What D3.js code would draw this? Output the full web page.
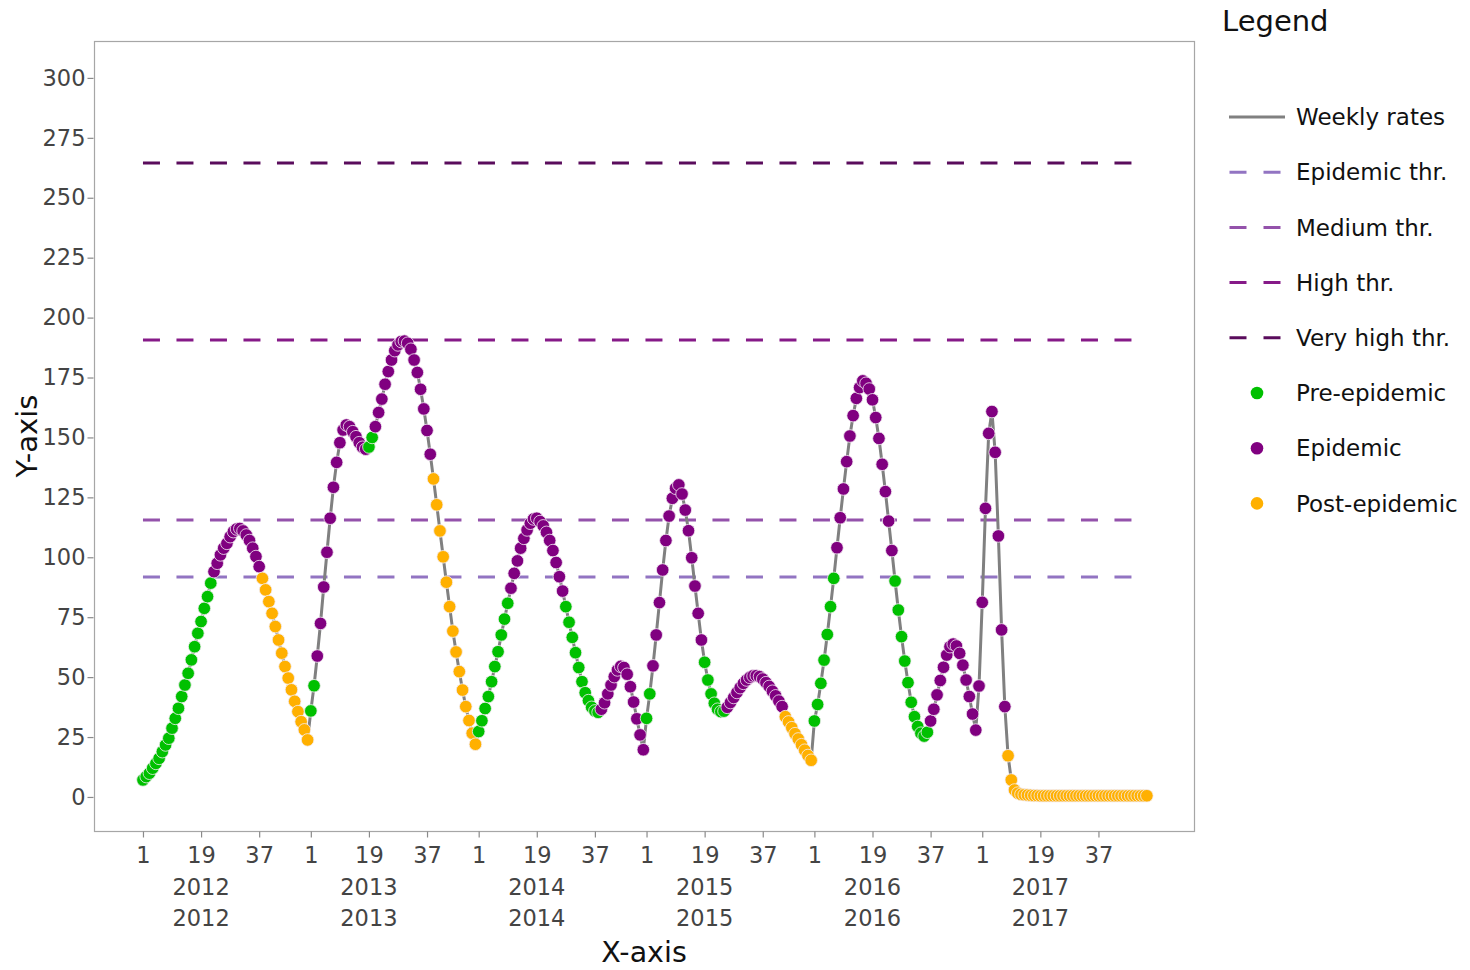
<!DOCTYPE html>
<html>
<head>
<meta charset="utf-8">
<script src="https://cdn.jsdelivr.net/npm/d3@7"></script>
<style>
  body { margin: 0; background: #fff; }
  text { font-family: "DejaVu Sans", Verdana, sans-serif; }
</style>
</head>
<body>
<div id="chart"></div>
<script>
let years = [2012, 2013, 2014, 2015, 2016, 2017];
let weekTicks = [1, 19, 37];
let yTicks = [0, 25, 50, 75, 100, 125, 150, 175, 200, 225, 250, 275, 300];

// weekly rates, 52 weeks per season
let rates2012 = [7.1, 8.5, 9.9, 12.0, 14.0, 16.1, 18.9, 21.7, 24.5, 28.7, 32.8, 37.0, 41.9, 46.7, 51.6, 57.2, 62.7, 68.3, 73.2, 78.7, 83.6, 89.2,
    94.0, 97.5, 101.0, 103.8, 105.8, 108.6, 110.7, 111.8, 112.0, 111.0, 109.3, 107.0, 103.8, 100.3, 96.1,
    91.2, 86.4, 81.5, 76.6, 71.1, 65.5, 60.0, 54.4, 49.6, 44.7, 39.9, 35.6, 31.4, 28.0, 23.8];
let rates2013 = [35.9, 46.4, 58.8, 72.4, 87.6, 102.1, 116.3, 129.2, 139.6, 147.8, 153.1, 155.2, 154.5, 152.4, 150.3, 147.8, 145.9, 145.1,
    146.0, 150.0,
    154.5, 160.4, 166.0, 172.2, 177.5, 182.3, 186.2, 188.6, 190.0, 190.2, 189.3, 186.8, 182.3, 177.1, 170.1, 161.9, 152.9, 143.0,
    132.7, 121.9, 111.0, 100.2, 89.6, 79.4, 69.2, 60.5, 52.3, 44.6, 37.7, 31.9, 26.6, 22.0];
let rates2014 = [27.3, 31.8, 36.9, 41.9, 48.1, 54.4, 60.6, 67.6, 74.2, 80.8,
    87.1, 93.3, 98.5, 103.8, 107.9, 111.4, 114.2, 116.0, 116.3, 114.9, 113.1, 110.4, 107.0, 102.8, 97.8, 91.9, 85.9,
    79.4, 72.9, 66.6, 60.2, 54.0, 48.1, 43.5, 40.2, 37.4, 35.9, 35.3,
    36.6, 39.3, 43.0, 46.7, 50.2, 53.0, 54.5, 54.0, 51.2, 46.0, 39.6, 32.6, 25.9, 19.7];
let rates2015 = [32.8, 43.0,
    54.7, 67.6, 81.1, 94.7, 107.0, 117.2, 124.6, 128.8, 130.2, 126.4, 119.7, 111.1, 99.8, 88.0, 76.6, 65.5,
    56.2, 48.8, 43.0, 39.1, 36.6, 35.6, 35.8,
    37.4, 39.4, 41.5, 43.6, 45.6, 47.4, 48.8, 49.9, 50.5, 50.6, 50.2, 49.2, 47.7, 46.1, 44.1, 42.2, 40.0, 37.7,
    33.5, 31.3, 28.9, 26.4, 24.2, 21.8, 19.5, 17.3, 15.3];
let rates2016 = [31.7, 38.6, 47.4, 57.1, 67.8, 79.4, 91.2,
    104.0, 116.5, 128.5, 139.9, 150.6, 159.1, 166.3, 170.8, 173.6, 172.6, 170.2, 165.7, 158.3, 149.6, 138.8, 127.4, 115.1, 102.8,
    90.1, 78.0, 66.9, 56.7, 47.7, 39.5, 33.5, 29.4, 26.6, 25.4, 27.0,
    31.7, 36.6, 42.6, 48.6, 54.1, 59.2, 62.7, 63.8, 63.0, 59.9, 55.0, 48.8, 41.9, 34.6, 27.9, 46.3];
let rates2017 = [81.2, 120.4, 151.7, 160.8, 143.8, 108.9, 69.7, 37.7,
    17.2, 7.1, 2.9, 1.6, 1.1, 0.9, 0.8, 0.7, 0.6, 0.6,
    0.5, 0.5, 0.5, 0.5, 0.5, 0.5, 0.5, 0.5, 0.5, 0.5, 0.5, 0.5, 0.5, 0.5, 0.5, 0.5, 0.5,
    0.5, 0.5, 0.5, 0.5, 0.5, 0.5, 0.5, 0.5, 0.5, 0.5, 0.5, 0.5, 0.5, 0.5, 0.5, 0.5, 0.5];

// phase runs per season: [phase, number of weeks]
let phases2012 = [["pre", 22], ["epi", 15], ["post", 15]];
let phases2013 = [["pre", 2], ["epi", 16], ["pre", 2], ["epi", 18], ["post", 14]];
let phases2014 = [["pre", 10], ["epi", 17], ["pre", 11], ["epi", 14]];
let phases2015 = [["pre", 2], ["epi", 16], ["pre", 7], ["epi", 18], ["post", 9]];
let phases2016 = [["pre", 7], ["epi", 18], ["pre", 11], ["epi", 16]];
let phases2017 = [["epi", 8], ["post", 44]];

let thresholdValues = [91.8, 115.6, 190.7, 264.5];
let thresholdNames = ["Epidemic thr.", "Medium thr.", "High thr.", "Very high thr."];
let thresholdColors = ["#9274c2", "#9452ab", "#861a88", "#5a0c5c"];
let phaseKeys = ["pre", "epi", "post"];
let phaseNames = ["Pre-epidemic", "Epidemic", "Post-epidemic"];
let phaseColors = ["#00c000", "#800080", "#ffb000"];

let width = 1470, height = 970;
let plotLeft = 94, plotRight = 1194, plotTop = 41, plotBottom = 831;

let allRates = [rates2012, rates2013, rates2014, rates2015, rates2016, rates2017];
let allPhases = [phases2012, phases2013, phases2014, phases2015, phases2016, phases2017];
let data = [];
allRates.forEach((rates, k) => {
    let codes = [];
    allPhases[k].forEach(r => { for (let n = 0; n < r[1]; n++) codes.push(r[0]); });
    rates.forEach((v, j) => data.push({ i: k * 52 + j, v: v, phase: codes[j] }));
});
let lastIndex = data.length - 1;

let xScale = d3.scaleLinear().domain([-15.17, 325.6]).range([plotLeft, plotRight]);
let yScale = d3.scaleLinear().domain([-14.2, 315.4]).range([plotBottom, plotTop]);
let colorScale = d3.scaleOrdinal().domain(phaseKeys).range(phaseColors);
let thrColor = d3.scaleOrdinal().domain(thresholdNames).range(thresholdColors);

let svg = d3.select("#chart")
    .append("svg")
    .attr("width", width)
    .attr("height", height);

svg.append("rect")
    .attr("x", plotLeft + 0.5).attr("y", plotTop + 0.5)
    .attr("width", plotRight - plotLeft).attr("height", plotBottom - plotTop)
    .attr("fill", "none").attr("stroke", "#a6a6a6").attr("stroke-width", 1.2);

let xTickValues = [];
years.forEach((yr, k) => weekTicks.forEach(w => xTickValues.push(k * 52 + w - 1)));

let xAxis = d3.axisBottom(xScale)
    .tickValues(xTickValues)
    .tickFormat(d => (d % 52) + 1)
    .tickSize(6)
    .tickPadding(10);
let gx = svg.append("g")
    .attr("transform", "translate(0," + (plotBottom + 0.5) + ")")
    .call(xAxis);

let yAxis = d3.axisLeft(yScale)
    .tickValues(yTicks)
    .tickSize(6)
    .tickPadding(2);
let gy = svg.append("g")
    .attr("transform", "translate(" + (plotLeft - 0.5) + ",0)")
    .call(yAxis);

[gx, gy].forEach(g => {
    g.select(".domain").remove();
    g.selectAll(".tick line").attr("stroke", "#8a8a8a").attr("stroke-width", 1.2);
    g.selectAll(".tick text")
        .attr("fill", "#444")
        .attr("font-size", "22.5px")
        .attr("font-family", "DejaVu Sans, Verdana, sans-serif");
});

[895, 926].forEach(yy => {
    svg.append("g").selectAll("text")
        .data(years)
        .enter()
        .append("text")
        .attr("x", (d, k) => xScale(k * 52 + 18))
        .attr("y", yy)
        .attr("text-anchor", "middle")
        .attr("font-size", "22.5px")
        .attr("fill", "#444")
        .text(d => d);
});

svg.append("text")
    .attr("x", (plotLeft + plotRight) / 2)
    .attr("y", 962)
    .attr("text-anchor", "middle")
    .attr("font-size", "28.5px")
    .attr("fill", "#111")
    .text("X-axis");

svg.append("text")
    .attr("transform", "translate(37," + (plotTop + plotBottom) / 2 + ") rotate(-90)")
    .attr("text-anchor", "middle")
    .attr("font-size", "29px")
    .attr("fill", "#111")
    .text("Y-axis");

svg.append("g").selectAll("line")
    .data(thresholdValues)
    .enter()
    .append("line")
    .attr("x1", xScale(0))
    .attr("x2", xScale(lastIndex))
    .attr("y1", d => yScale(d))
    .attr("y2", d => yScale(d))
    .attr("stroke", (d, k) => thrColor(thresholdNames[k]))
    .attr("stroke-width", 3)
    .attr("stroke-dasharray", "17,16.5");

let line = d3.line()
    .x(d => xScale(d.i))
    .y(d => yScale(d.v));

svg.append("path")
    .datum(data)
    .attr("d", line)
    .attr("fill", "none")
    .attr("stroke", "#808080")
    .attr("stroke-width", 3);

svg.append("g").selectAll("circle")
    .data(data)
    .enter()
    .append("circle")
    .attr("cx", d => xScale(d.i))
    .attr("cy", d => yScale(d.v))
    .attr("r", 6.3)
    .attr("fill", d => colorScale(d.phase))
    .attr("stroke", "#f4eef4")
    .attr("stroke-width", 0.8);

// legend
let lg = svg.append("g");
lg.append("text")
    .attr("x", 1222)
    .attr("y", 31)
    .attr("font-size", "29px")
    .attr("fill", "#111")
    .text("Legend");

let rowY = k => 117 + k * 55.2;

lg.append("line")
    .attr("x1", 1229).attr("x2", 1285)
    .attr("y1", rowY(0)).attr("y2", rowY(0))
    .attr("stroke", "#808080").attr("stroke-width", 3);

thresholdNames.forEach((name, k) => {
    lg.append("line")
        .attr("x1", 1229.5).attr("x2", 1281)
        .attr("y1", rowY(k + 1)).attr("y2", rowY(k + 1))
        .attr("stroke", thrColor(name)).attr("stroke-width", 3)
        .attr("stroke-dasharray", "17,17");
});

phaseKeys.forEach((p, k) => {
    lg.append("circle")
        .attr("cx", 1257).attr("cy", rowY(k + 5))
        .attr("r", 6.3)
        .attr("fill", colorScale(p));
});

let legendLabels = ["Weekly rates"].concat(thresholdNames, phaseNames);
lg.selectAll(".lab")
    .data(legendLabels)
    .enter()
    .append("text")
    .attr("class", "lab")
    .attr("x", 1296)
    .attr("y", (d, k) => rowY(k))
    .attr("dy", "0.36em")
    .attr("font-size", "23px")
    .attr("fill", "#111")
    .text(d => d);
</script>
</body>
</html>
